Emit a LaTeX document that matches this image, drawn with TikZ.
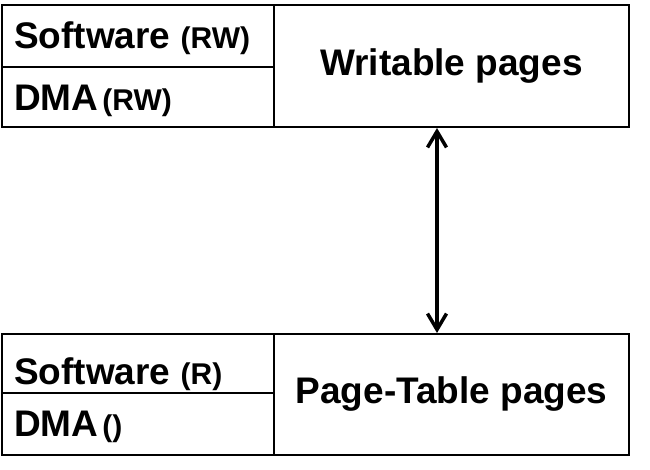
\documentclass[tikz,border=0pt]{standalone}
\usepackage{fontspec}
\setmainfont{Liberation Sans}
\usetikzlibrary{arrows.meta}
\newcommand{\bigtxt}{\fontsize{37}{40}\selectfont\bfseries}
\newcommand{\smtxt}{\fontsize{30}{32}\selectfont\bfseries}
\tikzset{
  box/.style={draw=black, line width=2pt, inner sep=0pt, anchor=north west},
  lbl/.style={anchor=base west, inner sep=0pt, font=\bigtxt},
  ctr/.style={anchor=center, inner sep=0pt, font=\bigtxt},
  arr/.style={line width=3.5pt, {Straight Barb[length=16pt,width=19pt,line width=3.5pt]}-{Straight Barb[length=16pt,width=19pt,line width=3.5pt]}}
}
\begin{document}
\begin{tikzpicture}[x=1pt,y=-1pt]
\useasboundingbox (0,0) rectangle (650,469);
% top group
\node[box, minimum width=272pt, minimum height=62pt] (sw1) at (1,4) {};
\node[box, minimum width=272pt, minimum height=60pt] (dm1) at (1,66) {};
\node[box, minimum width=355pt, minimum height=122pt] (wr) at (273,4) {};
\node[lbl] (tsw1) at (14,48) {Software {\smtxt (RW)}};
\node[lbl] (tdm1) at (14,110) {DMA\hspace{4pt}{\smtxt (RW)}};
\node[ctr] (twr) at (wr.center) {Writable pages};
% bottom group
\node[box, minimum width=272pt, minimum height=59pt] (sw2) at (1,333) {};
\node[box, minimum width=272pt, minimum height=62pt] (dm2) at (1,392) {};
\node[box, minimum width=355pt, minimum height=121pt] (pt) at (273,333) {};
\node[lbl] (tsw2) at (14,384) {Software {\smtxt (R)}};
\node[lbl] (tdm2) at (14,436) {DMA\hspace{4pt}{\smtxt ()}};
\node[ctr] (tpt) at (pt.center) {Page-Table pages};
% arrow
\draw[arr] ([xshift=164pt]wr.south west) -- ([xshift=164pt]pt.north west);
\end{tikzpicture}
\end{document}
